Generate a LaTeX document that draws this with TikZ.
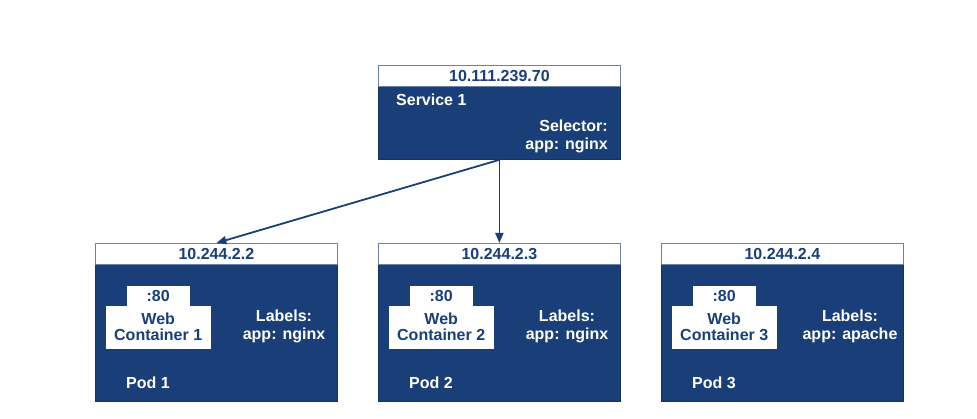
\documentclass[tikz,border=0pt]{standalone}
\usepackage{fontspec}
\setmainfont{Liberation Sans}
\usetikzlibrary{arrows.meta}
\definecolor{kblue}{HTML}{1A3F78}
\begin{document}
\begin{tikzpicture}[x=1pt,y=-1pt,
  txt/.style={font=\bfseries\fontsize{16}{19}\selectfont},
  body/.style={draw=kblue!80!black,fill=kblue,line width=0.8pt,inner sep=0pt,anchor=north west},
  head/.style={draw=kblue!65,fill=white,line width=0.8pt,inner sep=0pt,anchor=north west,minimum height=21pt,txt,text=kblue},
  wtxt/.style={txt,text=white,align=center,inner sep=0pt},
  cont/.style={draw=white,fill=white,inner sep=0pt,anchor=north west,txt,text=kblue,align=center},
  conn/.style={draw=kblue,line width=1.8pt,-{Triangle[length=10pt,width=8pt]}}]
\useasboundingbox (0,0) rectangle (977,419);
% service
\node[body,minimum width=242pt,minimum height=94pt] (svc) at (378,65) {};
\node[head,minimum width=242pt] (svch) at (378,65) {10.111.239.70};
\node[wtxt,anchor=west] (svcname) at (396,100) {Service 1};
\node[wtxt,anchor=east,align=right] (svcsel) at (608,136) {Selector:\\[-1pt]app: nginx};
% pods
\foreach \i/\x/\app in {1/95/nginx,2/378/nginx,3/661/apache}{
  \node[body,minimum width=242pt,minimum height=158pt] (pod\i) at (\x,243) {};
  \node[head,minimum width=242pt] (pod\i h) at (\x,243) {10.244.2.\the\numexpr\i+1\relax};
  \node[cont,minimum width=62pt,minimum height=20pt] (port\i) at (\x+32,286) {:80};
  \node[cont,minimum width=104pt,minimum height=42pt] (web\i) at (\x+11,306) {Web\\[-3pt]Container \i};
  \node[wtxt] (lab\i) at (\x+189,326) {Labels:\\[-1pt]app: \app};
  \node[wtxt,anchor=west] (name\i) at (\x+31,383) {Pod \i};
}
\draw[conn] (svc.south) -- (pod1h.north);
\draw[conn] (svc.south) -- (pod2h.north);
\end{tikzpicture}
\end{document}
